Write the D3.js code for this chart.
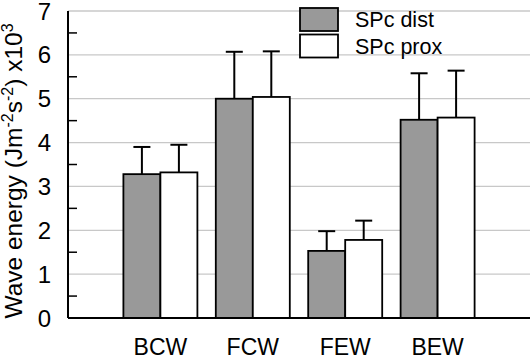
<!DOCTYPE html>
<html><head><meta charset="utf-8">
<script src="https://cdn.jsdelivr.net/npm/d3@7"></script>
<style>body{margin:0;background:#fff}svg{display:block}text{font-family:Arial,"Liberation Sans",sans-serif;fill:#000}</style>
</head><body>
<script>
const categories = ["BCW","FCW","FEW","BEW"];
const seriesNames = ["SPc dist","SPc prox"];
const distValues = [3.28, 5.00, 1.53, 4.52];
const proxValues = [3.32, 5.04, 1.78, 4.57];
const distErr = [0.62, 1.07, 0.45, 1.06];
const proxErr = [0.63, 1.04, 0.44, 1.07];
const yTicks = [0,1,2,3,4,5,6,7];
const seriesColors = ["#999999","#ffffff"];

const W = 532, H = 359;
const m = {left:68, right:2, top:11, bottom:41};
const svg = d3.select("body").append("svg").attr("width",W).attr("height",H);

const y = d3.scaleLinear().domain([0,7]).range([H-m.bottom, m.top]);
const x = d3.scalePoint().domain(categories).range([m.left, W-m.right]).padding(1);
const xs = d3.scaleBand().domain(seriesNames).range([-37,37]);

// gridlines
svg.append("g").selectAll("line").data(yTicks.filter(d=>d>0)).join("line")
  .attr("x1",m.left).attr("x2",W-m.right)
  .attr("y1",d=>y(d)).attr("y2",d=>y(d))
  .attr("stroke","#c8c8c8").attr("stroke-width",1.3);

// bars
const data = categories.map((c,i)=>({c, vals:[
  {s:seriesNames[0], v:distValues[i], e:distErr[i], col:seriesColors[0]},
  {s:seriesNames[1], v:proxValues[i], e:proxErr[i], col:seriesColors[1]}]}));
const g = svg.append("g").selectAll("g").data(data).join("g")
  .attr("transform",d=>`translate(${x(d.c)},0)`);
g.selectAll("line.err").data(d=>d.vals).join("line").attr("class","err")
  .attr("x1",d=>xs(d.s)+xs.bandwidth()/2).attr("x2",d=>xs(d.s)+xs.bandwidth()/2)
  .attr("y1",d=>y(d.v)).attr("y2",d=>y(d.v+d.e))
  .attr("stroke","#000").attr("stroke-width",2);
g.selectAll("line.cap").data(d=>d.vals).join("line").attr("class","cap")
  .attr("x1",d=>xs(d.s)+xs.bandwidth()/2-8.5).attr("x2",d=>xs(d.s)+xs.bandwidth()/2+8.5)
  .attr("y1",d=>y(d.v+d.e)).attr("y2",d=>y(d.v+d.e))
  .attr("stroke","#000").attr("stroke-width",2);
g.selectAll("rect").data(d=>d.vals).join("rect")
  .attr("x",d=>xs(d.s)).attr("width",xs.bandwidth())
  .attr("y",d=>y(d.v)).attr("height",d=>y(0)-y(d.v))
  .attr("fill",d=>d.col).attr("stroke","#000").attr("stroke-width",1.8);

// axes
svg.append("line").attr("x1",m.left).attr("x2",m.left).attr("y1",y(7)).attr("y2",y(0))
  .attr("stroke","#000").attr("stroke-width",2);
svg.append("line").attr("x1",m.left).attr("x2",W-m.right).attr("y1",y(0)).attr("y2",y(0))
  .attr("stroke","#000").attr("stroke-width",2);
svg.append("g").selectAll("line").data(d3.range(0.5,7,1)).join("line")
  .attr("x1",m.left).attr("x2",m.left+9).attr("y1",d=>y(d)).attr("y2",d=>y(d))
  .attr("stroke","#000").attr("stroke-width",1.5);
// tick labels
svg.append("g").selectAll("text").data(yTicks).join("text")
  .attr("x",51).attr("y",d=>y(d)).attr("dy","0.36em").attr("text-anchor","end")
  .attr("font-size",24).text(d=>d);
svg.append("g").selectAll("text").data(categories).join("text")
  .attr("x",d=>x(d)).attr("y",355).attr("text-anchor","middle")
  .attr("font-size",23).text(d=>d);

// y label
const yl = svg.append("text").attr("transform","translate(22,171) rotate(-90)")
  .attr("text-anchor","middle").attr("font-size",24.5);
yl.append("tspan").text("Wave energy (Jm");
yl.append("tspan").attr("dy",-9).attr("font-size",16).text("-2");
yl.append("tspan").attr("dy",9).text("s");
yl.append("tspan").attr("dy",-9).attr("font-size",16).text("-2");
yl.append("tspan").attr("dy",9).text(") x10");
yl.append("tspan").attr("dy",-9).attr("font-size",16).text("3");

// legend
const lg = svg.append("g").selectAll("g").data(seriesNames).join("g")
  .attr("transform",(d,i)=>`translate(300,${8+i*26.5})`);
lg.append("rect").attr("width",38).attr("height",23)
  .attr("fill",(d,i)=>seriesColors[i]).attr("stroke","#000").attr("stroke-width",1.8);
lg.append("text").attr("x",55).attr("y",19).attr("font-size",21.5).text(d=>d);
</script>
</body></html>
